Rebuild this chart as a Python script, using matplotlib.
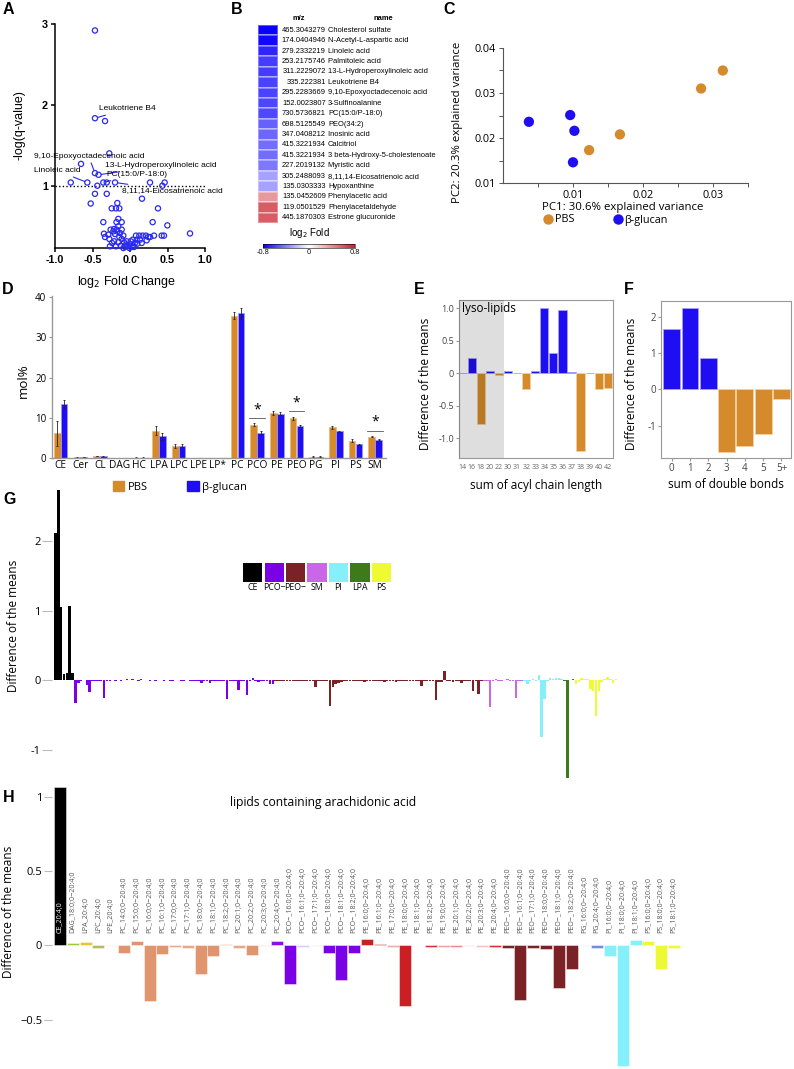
import matplotlib
matplotlib.use("Agg")
import matplotlib.pyplot as plt
import numpy as np
from matplotlib.colors import LinearSegmentedColormap
from matplotlib.patches import Patch
from matplotlib.lines import Line2D
from matplotlib.transforms import blended_transform_factory

plt.rcParams['font.family'] = ['Open Sans', 'DejaVu Sans']
plt.rcParams['axes.unicode_minus'] = False

# ---------------- data ----------------
# A: volcano plot
volcano_fc = [-0.467, -0.467, -0.333, -0.276, -0.653, -0.467, -0.42, -0.79, -0.569, -0.436,
              -0.356, -0.31, -0.2, -0.467, -0.31, -0.524, -0.169, -0.244, -0.187, -0.142,
              0.267, 0.431, 0.462, 0.16, 0.373, 0.302, 0.498, 0.8, -0.356, -0.156, -0.18, -0.111,
              -0.347, -0.333, -0.276, -0.222, -0.289, -0.2, -0.169, -0.133, -0.111, -0.213,
              -0.156, -0.111, -0.08, -0.053, -0.022, 0.0, 0.022, 0.044, 0.067, 0.089,
              0.08, 0.124, 0.169, 0.213, 0.267, 0.32, 0.422, 0.453, 0.133, 0.222,
              -0.187, -0.124, -0.067, -0.044, 0.009, -0.267, -0.24, -0.142, -0.089, -0.178,
              -0.213, 0.036, 0.053, 0.098, 0.156, 0.244, -0.089, -0.009, -0.156, -0.258]
volcano_q = [2.92, 1.835, 1.80, 1.40, 1.27, 1.156, 1.135, 1.04, 1.04, 1.0,
             1.04, 1.04, 1.04, 0.90, 0.90, 0.78, 0.786, 0.72, 0.72, 0.72,
             1.04, 1.0, 1.04, 0.84, 0.72, 0.55, 0.51, 0.41, 0.55, 0.59, 0.55, 0.55,
             0.407, 0.366, 0.342, 0.436, 0.395, 0.403, 0.436, 0.416, 0.457, 0.313,
             0.30, 0.342, 0.30, 0.272, 0.251, 0.272, 0.243, 0.259, 0.292, 0.333,
             0.383, 0.383, 0.383, 0.383, 0.366, 0.383, 0.383, 0.383, 0.333, 0.325,
             0.251, 0.259, 0.243, 0.313, 0.313, 0.251, 0.292, 0.366, 0.383, 0.457,
             0.465, 0.333, 0.243, 0.284, 0.292, 0.366, 0.23, 0.23, 0.498, 0.457]
volcano_notes = [("Leukotriene B4", -0.467, 1.835, -0.41, 1.95, 'left'),
                 ("9,10-Epoxyoctadecenoic acid", -0.467, 1.156, -0.55, 1.36, 'center'),
                 ("13-L-Hydroperoxylinoleic acid", -0.42, 1.135, -0.33, 1.25, 'left'),
                 ("Linoleic acid", -0.569, 1.04, -0.97, 1.185, 'center'),
                 ("PC(15:0/P-18:0)", -0.356, 1.04, -0.32, 1.14, 'left'),
                 ("8,11,14-Eicosatrienoic acid", -0.2, 1.04, -0.11, 0.94, 'left')]

# B: heatmap
b_mz = ['465.3043279', '174.0404946', '279.2332219', '253.2175746', '311.2229072', '335.222381',
        '295.2283669', '152.0023807', '730.5736821', '698.5125549', '347.0408212', '415.3221934',
        '415.3221934', '227.2019132', '305.2488093', '135.0303333', '135.0452609', '119.0501529',
        '445.1870303']
b_names = ['Cholesterol sulfate', 'N-Acetyl-L-aspartic acid', 'Linoleic acid', 'Palmitoleic acid',
           '13-L-Hydroperoxylinoleic acid', 'Leukotriene B4', '9,10-Epoxyoctadecenoic acid',
           '3-Sulfinoalanine', 'PC(15:0/P-18:0)', 'PEO(34:2)', 'Inosinic acid', 'Calcitriol',
           '3 beta-Hydroxy-5-cholestenoate', 'Myristic acid', '8,11,14-Eicosatrienoic acid',
           'Hypoxanthine', 'Phenylacetic acid', 'Phenylacetaldehyde', 'Estrone glucuronide']
b_fold = [-0.80, -0.77, -0.68, -0.61, -0.61, -0.59, -0.59, -0.58, -0.57, -0.50,
          -0.48, -0.46, -0.46, -0.42, -0.29, -0.29, 0.36, 0.58, 0.58]

# C: PCA
c_pbs_x = [0.0314, 0.0283, 0.0167, 0.0123]
c_pbs_y = [0.0350, 0.0310, 0.0208, 0.0173]
c_glu_x = [0.0037, 0.0096, 0.0102, 0.0100]
c_glu_y = [0.0236, 0.0251, 0.0216, 0.0146]

# D: lipid classes (mol%)
d_classes = ['CE', 'Cer', 'CL', 'DAG', 'HC', 'LPA', 'LPC', 'LPE', 'LP*', 'PC', 'PCO', 'PE',
             'PEO', 'PG', 'PI', 'PS', 'SM']
d_pbs = [6.1, 0.15, 0.5, 0.05, 0.1, 6.8, 3.0, 0.05, 0.05, 35.4, 8.3, 11.2, 9.9, 0.35, 7.6, 4.3, 5.3]
d_pbs_err = [3.2, 0.05, 0.1, 0.02, 0.03, 1.2, 0.4, 0.02, 0.02, 0.8, 0.3, 0.5, 0.4, 0.05, 0.4, 0.4, 0.2]
d_glu = [13.4, 0.2, 0.45, 0.05, 0.1, 5.4, 3.1, 0.05, 0.05, 36.0, 6.3, 11.0, 8.0, 0.35, 6.6, 3.4, 4.6]
d_glu_err = [1.0, 0.05, 0.1, 0.02, 0.03, 0.9, 0.3, 0.02, 0.02, 1.2, 0.5, 0.4, 0.3, 0.05, 0.2, 0.2, 0.2]
d_signif = ['PCO', 'PEO', 'SM']

# E: chain length
e_len = ['14', '16', '18', '20', '22', '30', '31', '32', '33', '34', '35', '36', '37', '38', '39', '40', '42']
e_diff = [0.01, 0.23, -0.78, 0.03, -0.03, 0.04, 0.01, -0.24, 0.03, 1.0, 0.31, 0.98, 0.02, -1.2, 0.01, -0.24, -0.22]
e_lyso_count = 5

# F: double bonds
f_db = ['0', '1', '2', '3', '4', '5', '5+']
f_diff = [1.65, 2.23, 0.87, -1.72, -1.55, -1.22, -0.28]

# G: individual species per class
g_ce = [2.12, 2.73, 1.05, 0.09, 0.11, 1.07, 0.11]
g_pco = [-0.33, -0.04, -0.01, 0.0, -0.07, -0.17, -0.01, -0.005, -0.01, -0.01,
         -0.26, -0.01, -0.01, 0.005, -0.005, 0.005, -0.01, 0.005, 0.01, 0.005,
         0.01, 0.005, -0.005, 0.01, 0.005, 0.0, -0.005, 0.005, -0.01, 0.005,
         0.0, -0.005, 0.005, -0.01, -0.005, 0.005, 0.0, -0.01, -0.005, 0.005,
         -0.01, -0.01, -0.005, -0.01, -0.04, -0.01, -0.005, -0.04, -0.01, -0.005,
         -0.01, -0.005, -0.01, -0.27, -0.01, -0.005, -0.01, -0.14, -0.005, -0.01,
         -0.22, -0.01, 0.03, -0.01, -0.03, -0.01, -0.005, -0.01, -0.05, -0.05]
g_peo = [-0.01, -0.005, -0.01, -0.015, -0.01, -0.005, -0.01, -0.015, -0.01, -0.005,
         -0.01, -0.005, -0.01, -0.005, -0.10, -0.01, -0.005, -0.01, -0.01, -0.37,
         -0.10, -0.06, -0.04, -0.03, -0.01, -0.005, -0.01, -0.005, -0.01, -0.005,
         -0.01, -0.02, -0.01, -0.005, -0.01, -0.005, -0.01, -0.005, -0.02, -0.01,
         -0.005, -0.01, -0.02, -0.01, -0.005, -0.01, -0.005, -0.015, -0.005, -0.01,
         -0.005, -0.08, -0.01, -0.005, -0.01, -0.01, -0.28, -0.03, -0.02, 0.13,
         -0.01, -0.005, -0.03, -0.005, -0.01, -0.04, -0.01, -0.005, -0.01, -0.15,
         -0.01, -0.20, -0.01]
g_sm = [-0.01, -0.005, -0.39, -0.01, 0.01, -0.005, -0.01, 0.005, 0.01, -0.005, -0.01, -0.26, -0.01, -0.005]
g_pi = [-0.01, -0.05, -0.005, 0.01, -0.005, 0.08, -0.82, -0.27, -0.01, 0.03, 0.01, 0.03, 0.03, 0.01]
g_lpa = [-0.01, -1.40, 0.0, 0.02]
g_ps = [-0.05, -0.03, 0.03, 0.02, 0.01, -0.13, -0.16, -0.51, -0.15, -0.02, 0.01, 0.05, 0.01, -0.04, 0.02]
g_names = ['CE', 'PCO−', 'PEO−', 'SM', 'PI', 'LPA', 'PS']

# H: arachidonic acid containing lipids
h_species = ['CE_20:4;0', 'DAG_18:0;0−20:4;0', 'LPA_20:4;0', 'LPC_20:4;0', 'LPE_20:4;0',
             'PC_14:0;0−20:4;0', 'PC_15:0;0−20:4;0', 'PC_16:0;0−20:4;0', 'PC_16:1;0−20:4;0',
             'PC_17:0;0−20:4;0', 'PC_17:1;0−20:4;0', 'PC_18:0;0−20:4;0', 'PC_18:1;0−20:4;0',
             'PC_18:2;0−20:4;0', 'PC_20:1;0−20:4;0', 'PC_20:2;0−20:4;0', 'PC_20:3;0−20:4;0',
             'PC_20:4;0−20:4;0', 'PCO−_16:0;0−20:4;0', 'PCO−_16:1;0−20:4;0', 'PCO−_17:1;0−20:4;0',
             'PCO−_18:0;0−20:4;0', 'PCO−_18:1;0−20:4;0', 'PCO−_18:2;0−20:4;0', 'PE_16:0;0−20:4;0',
             'PE_16:1;0−20:4;0', 'PE_17:0;0−20:4;0', 'PE_18:0;0−20:4;0', 'PE_18:1;0−20:4;0',
             'PE_18:2;0−20:4;0', 'PE_19:0;0−20:4;0', 'PE_20:1;0−20:4;0', 'PE_20:2;0−20:4;0',
             'PE_20:3;0−20:4;0', 'PE_20:4;0−20:4;0', 'PEO−_16:0;0−20:4;0', 'PEO−_16:1;0−20:4;0',
             'PEO−_17:1;0−20:4;0', 'PEO−_18:0;0−20:4;0', 'PEO−_18:1;0−20:4;0', 'PEO−_18:2;0−20:4;0',
             'PG_16:0;0−20:4;0', 'PG_20:4;0−20:4;0', 'PI_16:0;0−20:4;0', 'PI_18:0;0−20:4;0',
             'PI_18:1;0−20:4;0', 'PS_16:0;0−20:4;0', 'PS_18:0;0−20:4;0', 'PS_18:1;0−20:4;0']
h_diff = [1.065, 0.015, 0.02, -0.015, -0.005,
          -0.055, 0.03, -0.375, -0.06, -0.01, -0.02, -0.19, -0.07, 0.01, -0.02, -0.065, -0.005,
          0.03, -0.26, -0.01, -0.005, -0.05, -0.23, -0.05,
          0.045, 0.01, -0.01, -0.41, 0.005, -0.01, -0.01, -0.01, -0.005, -0.01, -0.01,
          -0.015, -0.37, -0.02, -0.025, -0.29, -0.16,
          -0.005, -0.02, -0.07, -0.81, 0.035, 0.03, -0.16, -0.02]

# ---------------- styles ----------------
ORANGE = '#D58A2C'
BLUE = '#1F0EF2'
g_colors = ['#000000', '#7B00E4', '#7A2226', '#CC66E8', '#86F0FA', '#3F7A1A', '#EEFB33']
h_colors = ['#000000', '#9DC93A', '#E8C72A', '#B9B867', '#F6E8F0',
            '#E0956E', '#E0956E', '#E0956E', '#E0956E', '#E8A887', '#E8A887', '#E0956E', '#E0956E',
            '#EDB9A0', '#E8A887', '#E0956E', '#F5DDD0', '#8A10E6',
            '#7A00E6', '#D9CCF7', '#EFEAF8', '#7A00E6', '#7A00E6', '#7A00E6',
            '#CC1F24', '#CC3333', '#F0A8A8', '#CC1F24', '#CC2A2A', '#DD3030', '#F0A0A0', '#EE8C8C',
            '#F8DADA', '#F4C4C4', '#DD2A2A',
            '#7A2226', '#7A2226', '#7A2226', '#7A2226', '#7A2226', '#7A2226',
            '#E3EAFA', '#6F8EE6', '#86F0FA', '#86F0FA', '#86F0FA', '#EEF935', '#EEF935', '#EEF935']

W, H = 794, 1069
fig = plt.figure(figsize=(W / 100, H / 100), dpi=100)


def px_axes(x0, y0, x1, y1):
    ax = fig.add_axes([x0 / W, 1 - y1 / H, (x1 - x0) / W, (y1 - y0) / H])
    ax.patch.set_visible(False)
    return ax


def panel_label(x, y, s):
    fig.text(x / W, 1 - y / H, s, fontsize=11.5, fontweight='bold', family='Liberation Sans',
             ha='left', va='center')


def sign_colors(vals):
    return [BLUE if v > 0 else ORANGE for v in vals]


def sign_edges(vals):
    return ['#A5A0FF' if v > 0 else '#F2CFA0' for v in vals]


# ---------------- A ----------------
axA = px_axes(55, 24, 205, 248)
axA.scatter(volcano_fc, volcano_q, s=14, facecolors='none', edgecolors='#2A2AF0', linewidths=0.9,
            zorder=3, clip_on=False)
axA.axhline(1.0, ls=(0, (1, 1.6)), color='k', lw=1)
for name, px, py, tx, ty, ha in volcano_notes:
    axA.annotate(name, xy=(px, py), xytext=(tx, ty), ha=ha, va='center', fontsize=6,
                 family='Liberation Sans', annotation_clip=False,
                 arrowprops=dict(arrowstyle='-', color='#2A2AF0', lw=0.8, shrinkA=0, shrinkB=2))
axA.set_xlim(-1, 1)
axA.set_ylim(0.23, 3.0)
axA.set_xticks([-1.0, -0.5, 0.0, 0.5, 1.0])
axA.set_xticklabels(['-1.0', '-0.5', '0.0', '0.5', '1.0'])
axA.set_yticks([1, 2, 3])
for lab in axA.get_xticklabels() + axA.get_yticklabels():
    lab.set_fontweight('bold')
    lab.set_family('Liberation Sans')
    lab.set_fontsize(7.8)
for s in ['top', 'right']:
    axA.spines[s].set_visible(False)
for s in ['left', 'bottom']:
    axA.spines[s].set_linewidth(1.1)
axA.tick_params(length=3, width=1.1, pad=2)
axA.set_ylabel('-log(q-value)', fontsize=9, family='Liberation Sans')
axA.yaxis.set_label_coords(-0.20, 0.55)
axA.set_xlabel('log$_2$ Fold Change', fontsize=9, family='Liberation Sans')
axA.xaxis.set_label_coords(0.48, -0.115)

# ---------------- B ----------------
cmapB = LinearSegmentedColormap.from_list('bwr_fold', ['#0A00FF', '#FFFFFF', '#C81E28'])
axB = px_axes(258, 25, 278, 223)
meshB = axB.pcolormesh(np.array(b_fold)[:, None], cmap=cmapB, vmin=-0.8, vmax=0.8,
                       edgecolors=(1, 1, 1, 0.35), linewidth=0.3)
axB.set_ylim(len(b_fold), 0)
axB.axis('off')
trB = blended_transform_factory(axB.transAxes, axB.transData)
for i, (mz, nm) in enumerate(zip(b_mz, b_names)):
    axB.text(3.4, i + 0.5, mz, transform=trB, ha='right', va='center', fontsize=5.4,
             family='Liberation Sans')
    axB.text(3.5, i + 0.5, nm, transform=trB, ha='left', va='center', fontsize=5.4,
             family='Liberation Sans')
axB.text(2.05, -0.6, 'm/z', transform=trB, ha='center', va='center', fontsize=5.4,
         fontweight='bold', family='Liberation Sans')
axB.text(6.25, -0.6, 'name', transform=trB, ha='center', va='center', fontsize=5.4,
         fontweight='bold', family='Liberation Sans')
caxB = px_axes(263, 244, 355, 248)
cb = fig.colorbar(meshB, cax=caxB, orientation='horizontal', ticks=[-0.8, 0, 0.8])
cb.ax.set_xticklabels(['-0.8', '0', '0.8'])
cb.ax.tick_params(labelsize=5.4, length=0, pad=1)
cb.outline.set_linewidth(0.4)
caxB.text(0.5, 2.0, 'log$_2$ Fold', transform=caxB.transAxes, ha='center', va='bottom',
          fontsize=7, family='Liberation Sans')

# ---------------- C ----------------
axC = px_axes(503, 48, 748, 183)
axC.scatter(c_pbs_x, c_pbs_y, s=55, color=ORANGE, edgecolors='none', zorder=3)
axC.scatter(c_glu_x, c_glu_y, s=55, color=BLUE, edgecolors='none', zorder=3)
axC.set_xlim(0, 0.035)
axC.set_ylim(0.01, 0.04)
axC.set_xticks([0.01, 0.02, 0.03])
axC.set_xticks([0.005, 0.015, 0.025, 0.035], minor=True)
axC.set_yticks([0.01, 0.02, 0.03, 0.04])
axC.set_yticks([0.015, 0.025, 0.035], minor=True)
axC.set_xticklabels(['0.01', '0.02', '0.03'])
axC.set_yticklabels(['0.01', '0.02', '0.03', '0.04'])
for s in ['top', 'right']:
    axC.spines[s].set_visible(False)
for s in ['left', 'bottom']:
    axC.spines[s].set_color('#555555')
    axC.spines[s].set_linewidth(0.8)
axC.tick_params(which='both', length=3, width=0.7, color='#555555', labelsize=7.8, pad=2)
axC.set_xlabel('PC1: 30.6% explained variance', fontsize=8.2)
axC.xaxis.set_label_coords(0.49, -0.14)
axC.set_ylabel('PC2: 20.3% explained variance', fontsize=8.2)
axC.yaxis.set_label_coords(-0.165, 0.45)
fig.legend([Line2D([], [], ls='', marker='o', ms=7.5, color=ORANGE, mec='none'),
            Line2D([], [], ls='', marker='o', ms=7.5, color=BLUE, mec='none')],
           ['PBS', 'β-glucan'], loc='center left', bbox_to_anchor=(543 / W, 1 - 220 / H),
           ncol=2, frameon=False, fontsize=7.8, handlelength=1.0, handletextpad=0.1,
           columnspacing=3.5, borderpad=0, borderaxespad=0)

# ---------------- D ----------------
axD = px_axes(52, 296, 386, 458)
xd = np.arange(len(d_classes))
axD.bar(xd - 0.175, d_pbs, width=0.34, color=ORANGE, edgecolor='#EDB77A', linewidth=0.6,
        yerr=d_pbs_err, error_kw=dict(ecolor='#222222', elinewidth=0.6, capsize=1, capthick=0.6))
axD.bar(xd + 0.175, d_glu, width=0.34, color=BLUE, edgecolor='#9C96FF', linewidth=0.6,
        yerr=d_glu_err, error_kw=dict(ecolor='#222222', elinewidth=0.6, capsize=1, capthick=0.6))
for cls in d_signif:
    i = d_classes.index(cls)
    top = max(d_pbs[i] + d_pbs_err[i], d_glu[i] + d_glu_err[i]) + 1.3
    axD.plot([i - 0.4, i + 0.4], [top, top], color='#555555', lw=0.6)
    axD.text(i, top + 0.2, '*', ha='center', va='bottom', fontsize=10)
axD.set_xlim(-0.44, 16.55)
axD.set_ylim(0, 40.3)
axD.set_xticks(xd)
axD.set_xticklabels(d_classes)
axD.set_yticks([0, 10, 20, 30, 40])
for s in ['top', 'right']:
    axD.spines[s].set_visible(False)
for s in ['left', 'bottom']:
    axD.spines[s].set_color('#999999')
    axD.spines[s].set_linewidth(1.0)
axD.tick_params(axis='x', length=0, labelsize=7.3, pad=1.5)
axD.tick_params(axis='y', length=2.5, color='#999999', labelsize=7, pad=1.5)
axD.set_ylabel('mol%', fontsize=9.5)
axD.yaxis.set_label_coords(-0.065, 0.48)
fig.legend([Patch(color=ORANGE), Patch(color=BLUE)], ['PBS', 'β-glucan'], loc='center left',
           bbox_to_anchor=(113 / W, 1 - 487 / H), ncol=2, frameon=False, fontsize=8,
           handlelength=1.0, handleheight=1.0, handletextpad=0.3, columnspacing=3.6,
           borderpad=0, borderaxespad=0)

# ---------------- E ----------------
axE = px_axes(459, 300, 613, 458)
xe = np.arange(len(e_len))
axE.bar(xe, e_diff, width=0.9, color=sign_colors(e_diff), edgecolor=sign_edges(e_diff), linewidth=0.6)
axE.axvspan(-0.5, e_lyso_count - 0.5, color='black', alpha=0.13, lw=0, zorder=3)
axE.text(0.02, 0.985, 'lyso-lipids', transform=axE.transAxes, ha='left', va='top', fontsize=8.5,
         zorder=4)
axE.set_xlim(-0.41, 16.58)
axE.set_ylim(-1.303, 1.128)
axE.set_xticks(xe)
axE.set_xticklabels(e_len)
axE.set_yticks([-1.0, -0.5, 0, 0.5, 1.0])
axE.set_yticklabels(['-1.0', '-0.5', '0', '0.5', '1.0'])
axE.tick_params(axis='x', length=0, labelsize=5, labelcolor='#666666', pad=4)
axE.tick_params(axis='y', length=2, color='#999999', labelsize=6.5, labelcolor='#444444', pad=1.5)
for s in axE.spines.values():
    s.set_color('#999999')
    s.set_linewidth(0.8)
axE.set_ylabel('Difference of the means', fontsize=8.5)
axE.yaxis.set_label_coords(-0.175, 0.47)
axE.set_xlabel('sum of acyl chain length', fontsize=8.5)
axE.xaxis.set_label_coords(0.5, -0.13)

# ---------------- F ----------------
axF = px_axes(661, 301, 791, 458)
xf = np.arange(len(f_db))
axF.bar(xf, f_diff, width=0.92, color=sign_colors(f_diff), edgecolor=sign_edges(f_diff), linewidth=0.6)
axF.set_xlim(-0.58, 6.52)
axF.set_ylim(-1.89, 2.43)
axF.set_xticks(xf)
axF.set_xticklabels(f_db)
axF.set_yticks([-1, 0, 1, 2])
axF.tick_params(axis='x', length=2, color='#999999', labelsize=7, labelcolor='#444444', pad=1.5)
axF.tick_params(axis='y', length=2, color='#999999', labelsize=7, labelcolor='#444444', pad=1.5)
for s in axF.spines.values():
    s.set_color('#999999')
    s.set_linewidth(0.8)
axF.set_ylabel('Difference of the means', fontsize=8.5)
axF.yaxis.set_label_coords(-0.175, 0.47)
axF.set_xlabel('sum of double bonds', fontsize=8.5)
axF.xaxis.set_label_coords(0.5, -0.13)

# ---------------- G ----------------
axG = px_axes(52, 489, 620, 781)
g_lists = [g_ce, g_pco, g_peo, g_sm, g_pi, g_lpa, g_ps]
g_vals = np.concatenate(g_lists)
g_cols = np.repeat(g_colors, [len(g) for g in g_lists])
axG.bar(np.arange(len(g_vals)), g_vals, width=0.88, color=g_cols, linewidth=0)
axG.set_xlim(-1.2, 197.4)
axG.set_ylim(-1.45, 2.75)
axG.set_xticks([])
axG.set_yticks([-1, 0, 1, 2])
axG.tick_params(axis='y', length=7, width=0.8, color='#BBBBBB', labelsize=8, pad=1)
for s in axG.spines.values():
    s.set_visible(False)
axG.set_ylabel('Difference of the means', fontsize=8.5)
axG.yaxis.set_label_coords(-0.057, 0.53)
axGl = px_axes(242, 563, 392, 582)
axGl.bar(np.arange(len(g_names)), 1, width=0.9, color=g_colors, linewidth=0)
axGl.set_xlim(-0.5, len(g_names) - 0.5)
axGl.set_ylim(0, 1)
axGl.set_xticks(np.arange(len(g_names)))
axGl.set_xticklabels(g_names)
axGl.set_yticks([])
axGl.tick_params(axis='x', length=0, labelsize=6.3, pad=1)
for s in axGl.spines.values():
    s.set_visible(False)

# ---------------- H ----------------
axH = px_axes(52, 787, 700, 1069)
xh = np.arange(len(h_species))
axH.bar(xh, h_diff, width=0.94, color=h_colors, edgecolor=(1, 1, 1, 0.45), linewidth=0.7)
for i, lab in enumerate(h_species):
    axH.text(i, 0.08, lab, rotation=90, ha='center', va='bottom', fontsize=5.1,
             color='white' if i == 0 else '#555555')
axH.set_xlim(-0.625, 50.04)
axH.set_ylim(-0.832, 1.065)
axH.set_xticks([])
axH.set_yticks([-0.5, 0, 0.5, 1])
axH.set_yticklabels(['−0.5', '0', '0.5', '1'])
axH.tick_params(axis='y', length=6, width=0.8, color='#BBBBBB', labelsize=8, pad=1)
for s in axH.spines.values():
    s.set_visible(False)
axH.set_ylabel('Difference of the means', fontsize=8.5)
axH.yaxis.set_label_coords(-0.057, 0.557)
axH.text(0.418, 0.945, 'lipids containing arachidonic acid', transform=axH.transAxes,
         ha='center', va='center', fontsize=8.7)

# panel letters
panel_label(3, 9, 'A')
panel_label(231, 9, 'B')
panel_label(443, 9, 'C')
panel_label(2, 290, 'D')
panel_label(414, 290, 'E')
panel_label(624, 290, 'F')
panel_label(3, 500, 'G')
panel_label(3, 797, 'H')

fig.savefig('out.png', dpi=100)
plt.close(fig)
